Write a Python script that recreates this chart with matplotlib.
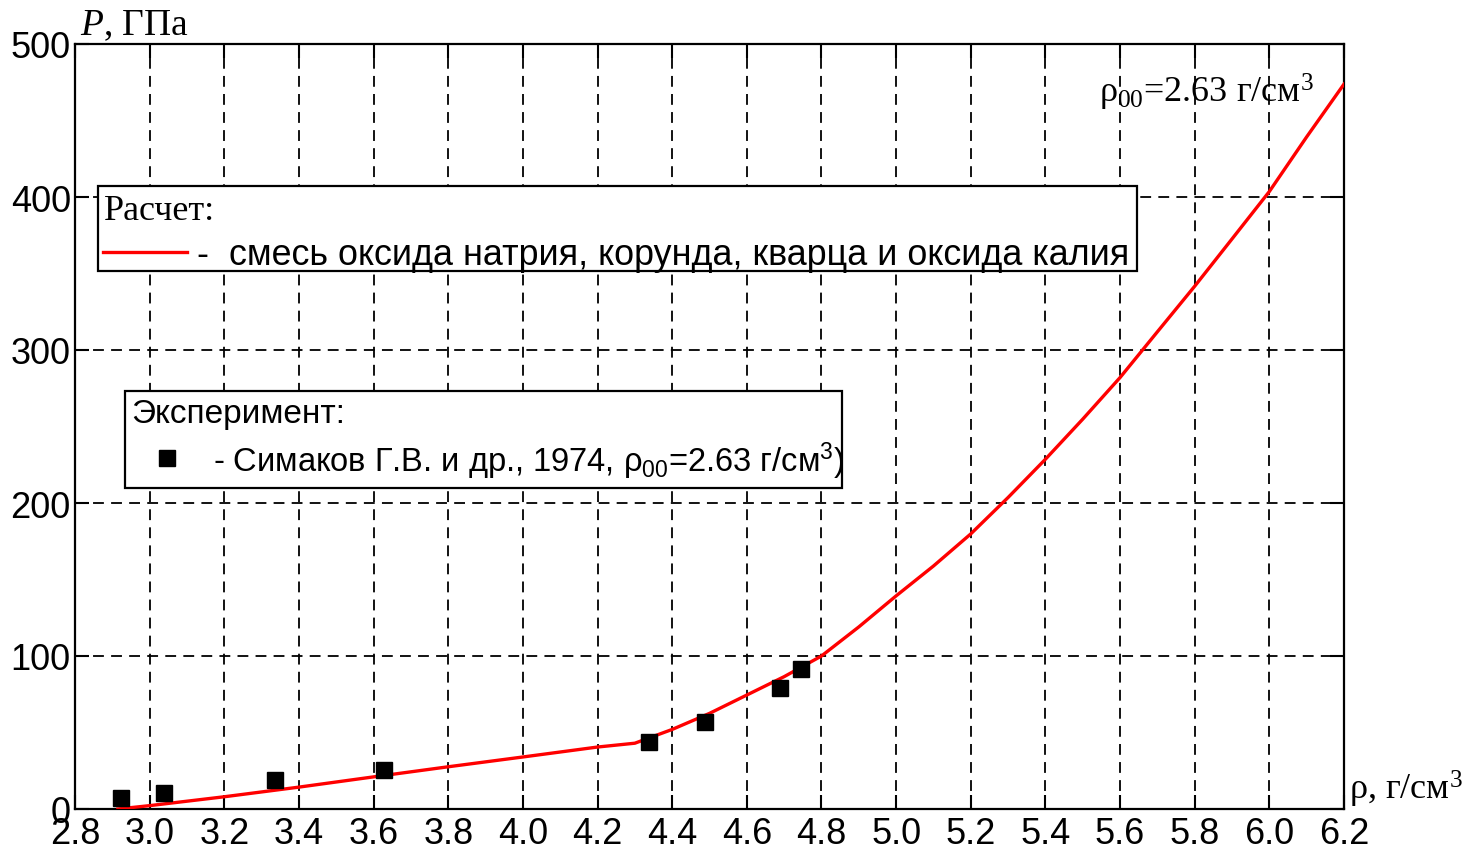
import matplotlib
matplotlib.use("Agg")
import matplotlib.pyplot as plt
from matplotlib.patches import Rectangle
from matplotlib.lines import Line2D

plt.rcParams["mathtext.fontset"] = "custom"
plt.rcParams["mathtext.rm"] = "Liberation Serif"
plt.rcParams["mathtext.it"] = "Liberation Serif:italic"

SANS = ["Liberation Sans Narrow", "Liberation Sans", "DejaVu Sans"]
SERIF = ["Liberation Serif", "DejaVu Serif"]

# calculated curve (mixture)
calc_rho = [2.915, 3.0, 3.2, 3.4, 3.6, 3.8, 4.0, 4.2, 4.3, 4.4, 4.5, 4.6,
            4.7, 4.8, 4.9, 5.0, 5.1, 5.2, 5.3, 5.4, 5.5, 5.6, 5.7, 5.8,
            5.9, 6.0, 6.1, 6.2]
calc_p = [0, 2.2, 8, 14.3, 21, 27.6, 34, 40.5, 43, 52, 62.5, 74.5,
          86.5, 100, 119, 139.3, 158.8, 179.8, 203.6, 228.6, 254.8, 282, 311.9, 341.7,
          372.6, 403.6, 439.3, 473.8]

# experiment, Simakov et al. 1974
exp_rho = [2.922, 3.038, 3.335, 3.629, 4.339, 4.488, 4.689, 4.746]
exp_p = [7.2, 10.5, 19.2, 25.7, 44, 57, 78.9, 91.5]

xticks = [2.8, 3.0, 3.2, 3.4, 3.6, 3.8, 4.0, 4.2, 4.4, 4.6, 4.8, 5.0,
          5.2, 5.4, 5.6, 5.8, 6.0, 6.2]
yticks = [0, 100, 200, 300, 400, 500]

fig = plt.figure(figsize=(14.64, 8.54), dpi=100)
ax = fig.add_axes([75 / 1464, 44 / 854, 1269 / 1464, 765 / 854])

ax.plot(calc_rho, calc_p, color="red", lw=2.4, zorder=3)
ax.plot(exp_rho, exp_p, ls="none", marker="s", ms=11, color="black", zorder=4)

ax.set_xlim(2.8, 6.2)
ax.set_ylim(0, 500)
ax.set_xticks(xticks)
ax.set_xticklabels([f"{v:.1f}" for v in xticks])
ax.set_yticks(yticks)
ax.set_yticklabels([str(v) for v in yticks])
ax.tick_params(direction="in", length=10, width=1.5, top=True, right=True,
               labelsize=26, pad=3)
ax.tick_params(axis="x", pad=5)
for lab in ax.get_xticklabels() + ax.get_yticklabels():
    lab.set_family(SANS)
ax.grid(True, color="black", ls=(0, (6, 4)), lw=1.3)
for s in ax.spines.values():
    s.set_linewidth(1.6)

# axis labels
ax.text(0.004, 1.013, "$P$, ГПа", transform=ax.transAxes, family=SERIF,
        fontsize=27, va="baseline", ha="left")
ax.text(1.004, 0.013, "ρ, г/см$^3$", transform=ax.transAxes, family=SERIF,
        fontsize=26, va="baseline", ha="left", clip_on=False)

# annotation
ax.text(0.807, 0.924, "ρ$_{00}$=2.63 г/см$^3$", transform=ax.transAxes,
        family=SERIF, fontsize=26, va="baseline", ha="left")

# legend box: calculation
ax.add_patch(Rectangle((0.0181, 0.7033), 0.8188, 0.1111, transform=ax.transAxes,
                       facecolor="white", edgecolor="black", lw=1.6, zorder=5))
ax.text(0.0229, 0.771, "Расчет:", transform=ax.transAxes, family=SERIF,
        fontsize=26, va="baseline", ha="left", zorder=6)
ax.add_line(Line2D([0.022, 0.0883], [0.728, 0.728], transform=ax.transAxes,
                   color="red", lw=2.4, zorder=6))
ax.text(0.0961, 0.712, "-  смесь оксида натрия, корунда, кварца и оксида калия",
        transform=ax.transAxes, family=SANS, fontsize=25.8, va="baseline",
        ha="left", zorder=6)

# legend box: experiment
ax.add_patch(Rectangle((0.0394, 0.4196), 0.565, 0.1268, transform=ax.transAxes,
                       facecolor="white", edgecolor="black", lw=1.6, zorder=5))
ax.text(0.0441, 0.5059, "Эксперимент:", transform=ax.transAxes, family=SANS,
        fontsize=24, va="baseline", ha="left", zorder=6)
ax.add_line(Line2D([0.0725], [0.4588], transform=ax.transAxes, ls="none",
                   marker="s", ms=11, color="black", zorder=6))
ax.text(0.1087, 0.4418,
        r"- Симаков Г.В. и др., 1974, ρ$\mathregular{_{00}}$=2.63 г/см$\mathregular{^3}$)",
        transform=ax.transAxes, family=SANS, fontsize=23.5, va="baseline",
        ha="left", zorder=6)

fig.savefig("out.png", dpi=100)
